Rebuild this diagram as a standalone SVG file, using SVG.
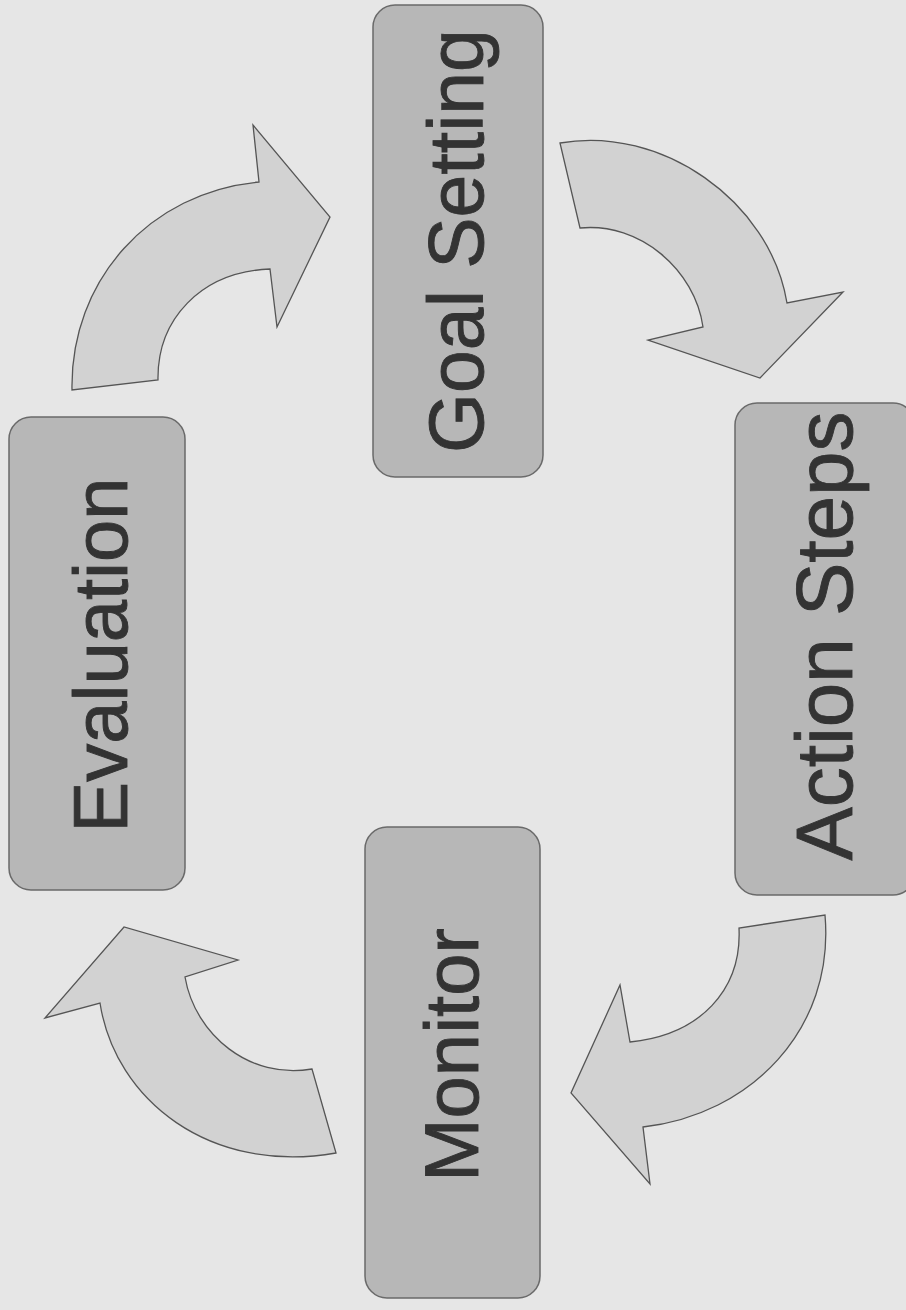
<svg xmlns="http://www.w3.org/2000/svg" width="906" height="1310" viewBox="0 0 906 1310">
<style>
.bg{fill:#e6e6e6}
.box{fill:#b7b7b7;stroke:#6a6a6a;stroke-width:1.5}
.lbl{font-family:"Liberation Sans",Arial,sans-serif;fill:#333333;stroke:#333333;stroke-width:0.9;text-anchor:middle}
.arr{fill:#d2d2d2;stroke:#555555;stroke-width:1.3;stroke-linejoin:miter}
</style>
<rect class="bg" x="0" y="0" width="906" height="1310"/>
<g id="connectors">
<path id="a1" class="arr" d="M560,143 C660,125 770,200 787,303 L843,292 L760,378 L648,340 L703,327 C695,270 640,222 580,228 Z"/>
<path id="a2" class="arr" d="M825,915 C835,1030 750,1115 643,1127 L650,1184 L571,1093 L620,985 L630,1042 C700,1035 742,990 739,928 Z"/>
<path id="a3" class="arr" d="M336,1153 C210,1175 115,1100 100,1003 L45,1018 L124,927 L238,960 L185,977 C195,1035 250,1080 312,1069 Z"/>
<path id="a4" class="arr" d="M72,390 C70,280 150,192 259,182 L253,125 L330,217 L277,327 L270,269 C200,272 157,320 158,380 Z"/>
</g>
<g id="goal-setting">
<rect class="box" x="373" y="5" width="170" height="472" rx="22"/>
<text class="lbl" font-size="77" transform="translate(483,241) rotate(-90)">Goal Setting</text>
</g>
<g id="action-steps">
<rect class="box" x="735" y="403" width="180" height="492" rx="22"/>
<text class="lbl" font-size="80" transform="translate(852,636) rotate(-90)">Action Steps</text>
</g>
<g id="monitor">
<rect class="box" x="365" y="827" width="175" height="471" rx="22"/>
<text class="lbl" font-size="76" transform="translate(478,1055) rotate(-90)">Monitor</text>
</g>
<g id="evaluation">
<rect class="box" x="9" y="417" width="176" height="473" rx="22"/>
<text class="lbl" font-size="76" transform="translate(127,655) rotate(-90)">Evaluation</text>
</g>
</svg>
